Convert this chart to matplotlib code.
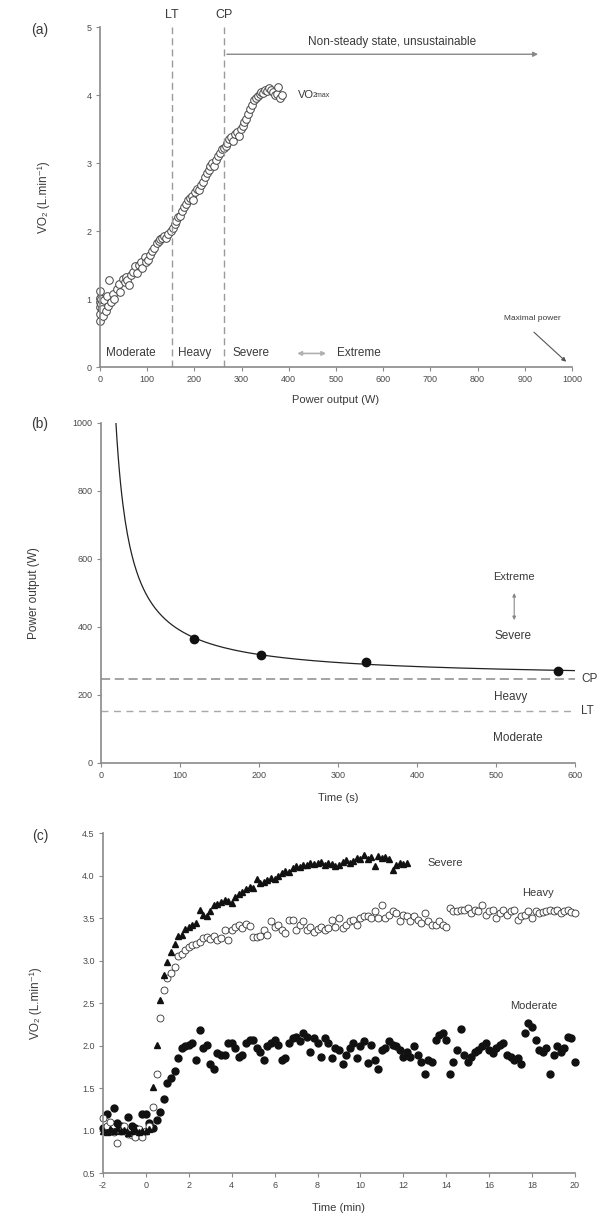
import numpy as np
import matplotlib
matplotlib.use("Agg")
import matplotlib.pyplot as plt

plt.rcParams['font.family'] = ['Liberation Sans', 'DejaVu Sans']
plt.rcParams['axes.unicode_minus'] = False

TXT = '#3a3a3a'
AX = '#8a8a8a'

# ---- (a) ramp test: VO2 vs power output ----
ramp_power = [0, 0, 0, 0, 0, 0, 2, 3, 4, 6, 8, 12, 15, 18, 20, 24, 28, 30, 35, 40,
              42, 48, 52, 55, 58, 62, 66, 70, 75, 78, 82, 86, 90, 95, 98, 102, 106, 110, 115, 120,
              125, 128, 132, 136, 140, 145, 150, 154, 158, 162, 166, 170, 174, 178, 182, 186, 190, 194, 198, 202,
              206, 210, 214, 218, 222, 226, 230, 234, 238, 242, 246, 250, 254, 258, 262, 266, 270, 274, 278, 282,
              286, 290, 294, 298, 302, 306, 310, 314, 318, 322, 326, 330, 334, 338, 342, 346, 350, 354, 358, 362,
              366, 370, 374, 378, 382, 386]
ramp_vo2 = [0.68, 0.78, 0.88, 0.95, 1.02, 1.12, 0.92, 1.00, 0.86, 0.75, 0.98, 0.82, 1.05, 0.90, 1.28, 0.95, 1.08, 1.00, 1.15, 1.22,
            1.10, 1.30, 1.25, 1.32, 1.28, 1.20, 1.35, 1.40, 1.48, 1.38, 1.50, 1.55, 1.45, 1.62, 1.55, 1.58, 1.65, 1.70, 1.75, 1.82,
            1.86, 1.88, 1.90, 1.92, 1.90, 1.95, 2.00, 2.05, 2.10, 2.15, 2.20, 2.22, 2.30, 2.35, 2.40, 2.45, 2.48, 2.52, 2.45, 2.58,
            2.62, 2.60, 2.68, 2.72, 2.80, 2.85, 2.90, 2.95, 3.00, 2.95, 3.05, 3.10, 3.15, 3.20, 3.22, 3.25, 3.30, 3.35, 3.38, 3.32,
            3.42, 3.45, 3.40, 3.50, 3.55, 3.60, 3.65, 3.72, 3.80, 3.85, 3.92, 3.95, 3.98, 4.02, 4.05, 4.03, 4.08, 4.06, 4.10, 4.08,
            4.05, 4.00, 4.02, 4.12, 3.95, 4.00]
LT_A = 152
CP_A = 263
MAX_POWER = 1000

# ---- (b) power-duration relationship ----
trial_time = [118, 202, 335, 579]
trial_power = [364, 319, 296, 271]
CP_B = 248
LT_B = 152
W_PRIME = 14200  # J, curvature constant of the hyperbola

# ---- (c) constant-power VO2 responses, 10-s samples from -2 min ----
moderate = [1.03, 1.20, 0.99, 1.26, 1.09, 1.05, 1.01, 1.16, 1.05, 1.03, 0.99, 1.20,
            1.20, 1.09, 1.03, 1.12, 1.22, 1.37, 1.56, 1.62, 1.70, 1.85, 1.97, 1.99,
            2.01, 2.03, 1.83, 2.18, 1.97, 2.01, 1.78, 1.72, 1.91, 1.89, 1.89, 2.03,
            2.03, 1.97, 1.87, 1.89, 2.03, 2.07, 2.07, 1.97, 1.93, 1.83, 1.99, 2.03,
            2.07, 2.01, 1.83, 1.85, 2.03, 2.09, 2.10, 2.05, 2.15, 2.10, 1.93, 2.09,
            2.03, 1.87, 2.09, 2.03, 1.85, 1.97, 1.95, 1.78, 1.89, 1.97, 2.03, 1.85,
            1.99, 2.05, 1.79, 2.01, 1.83, 1.72, 1.95, 1.97, 2.05, 2.01, 1.99, 1.95,
            1.87, 1.93, 1.87, 1.99, 1.89, 1.81, 1.67, 1.83, 1.81, 2.07, 2.13, 2.15,
            2.07, 1.66, 1.81, 1.95, 2.20, 1.89, 1.81, 1.87, 1.93, 1.95, 1.99, 2.03,
            1.95, 1.91, 1.97, 2.01, 2.03, 1.89, 1.87, 1.83, 1.85, 1.78, 2.15, 2.26,
            2.22, 2.07, 1.95, 1.93, 1.97, 1.67, 1.89, 1.99, 1.93, 1.97, 2.10, 2.09,
            1.81]
heavy = [1.15, 1.05, 1.10, 0.98, 0.85, 1.00, 1.05, 0.96, 0.95, 0.93, 1.02, 0.93,
         1.00, 1.05, 1.28, 1.66, 2.33, 2.65, 2.79, 2.85, 2.93, 3.05, 3.08, 3.12,
         3.16, 3.18, 3.20, 3.22, 3.26, 3.28, 3.25, 3.29, 3.24, 3.27, 3.36, 3.24,
         3.36, 3.40, 3.42, 3.38, 3.43, 3.41, 3.28, 3.28, 3.29, 3.36, 3.30, 3.46,
         3.40, 3.42, 3.36, 3.32, 3.48, 3.48, 3.36, 3.42, 3.46, 3.36, 3.40, 3.34,
         3.37, 3.40, 3.36, 3.38, 3.48, 3.40, 3.50, 3.38, 3.42, 3.46, 3.48, 3.42,
         3.50, 3.52, 3.53, 3.50, 3.58, 3.50, 3.65, 3.50, 3.54, 3.58, 3.56, 3.46,
         3.54, 3.52, 3.46, 3.52, 3.48, 3.44, 3.56, 3.46, 3.42, 3.42, 3.46, 3.42,
         3.40, 3.62, 3.58, 3.58, 3.59, 3.60, 3.62, 3.56, 3.60, 3.58, 3.65, 3.54,
         3.58, 3.60, 3.50, 3.56, 3.60, 3.54, 3.58, 3.60, 3.48, 3.52, 3.54, 3.58,
         3.50, 3.58, 3.56, 3.57, 3.58, 3.59, 3.58, 3.60, 3.56, 3.58, 3.60, 3.57,
         3.56]
severe = [1.00, 0.98, 1.02, 1.00, 1.03, 0.99, 1.01, 0.97, 1.00, 1.02, 0.98, 1.00,
          0.99, 1.02, 1.51, 2.01, 2.54, 2.83, 2.98, 3.10, 3.19, 3.29, 3.30, 3.37,
          3.40, 3.42, 3.44, 3.60, 3.54, 3.52, 3.58, 3.65, 3.66, 3.69, 3.71, 3.70,
          3.68, 3.75, 3.78, 3.81, 3.84, 3.87, 3.85, 3.96, 3.91, 3.92, 3.95, 3.97,
          3.96, 4.00, 4.03, 4.05, 4.04, 4.09, 4.11, 4.10, 4.13, 4.12, 4.15, 4.14,
          4.15, 4.16, 4.13, 4.15, 4.14, 4.11, 4.13, 4.16, 4.18, 4.15, 4.17, 4.21,
          4.19, 4.24, 4.20, 4.22, 4.11, 4.23, 4.21, 4.22, 4.20, 4.07, 4.13, 4.15,
          4.14, 4.15]
SAMPLE_MIN = 10 / 60.0


def style_axes(ax):
    for s in ['top', 'right']:
        ax.spines[s].set_visible(False)
    for s in ['left', 'bottom']:
        ax.spines[s].set_color(AX)
        ax.spines[s].set_linewidth(1.2)
    ax.tick_params(direction='out', length=3, width=0.8, colors=AX,
                   labelcolor='#4a4a4a', labelsize=6.5, pad=3)


# V with combining dot above, unicode sub/superscripts
vo2_label = 'V\u0307O\u2082 (L.min\u207b\u00b9)'

fig = plt.figure(figsize=(6.02, 12.3), dpi=100)

# ---------------- (a) ----------------
ax = fig.add_axes([0.1661, 0.7016, 0.7841, 0.2764])
style_axes(ax)
ax.set_xlim(0, 1000)
ax.set_ylim(0, 5)
ax.plot(ramp_power, ramp_vo2, 'o', ms=5.5, mfc='white', mec='#444444', mew=0.7, clip_on=False)
for x, lab in [(LT_A, 'LT'), (CP_A, 'CP')]:
    ax.plot([x, x], [0, 5], ls=(0, (5, 3)), color='#9a9a9a', lw=1.0)
    ax.text(x, 5.18, lab, ha='center', va='center', fontsize=9, color=TXT)
ax.annotate('', xy=(934, 4.6), xytext=(CP_A, 4.6),
            arrowprops=dict(arrowstyle='-|>', color='#888888', lw=1.0, mutation_scale=7))
ax.text(619, 4.78, 'Non-steady state, unsustainable', ha='center', va='center',
        fontsize=8.5, color=TXT)
vm = ax.text(420, 4.0, 'V\u0307O', ha='left', va='center', fontsize=8, color=TXT)
ax.annotate('2max', xy=(1, 0), xycoords=vm, xytext=(-0.9, 0.5),
            textcoords='offset points', ha='left', va='bottom', fontsize=5, color=TXT)
ax.text(13, 0.2, 'Moderate', ha='left', va='center', fontsize=8.5, color=TXT)
ax.text(165, 0.2, 'Heavy', ha='left', va='center', fontsize=8.5, color=TXT)
ax.text(280, 0.2, 'Severe', ha='left', va='center', fontsize=8.5, color=TXT)
ax.annotate('', xy=(485, 0.2), xytext=(412, 0.2),
            arrowprops=dict(arrowstyle='<|-|>', color='#b0b0b0', lw=1.2, mutation_scale=6))
ax.text(502, 0.2, 'Extreme', ha='left', va='center', fontsize=8.5, color=TXT)
ax.text(915, 0.72, 'Maximal power', ha='center', va='center', fontsize=6, color=TXT)
ax.annotate('', xy=(MAX_POWER - 8, 0.05), xytext=(915, 0.54),
            arrowprops=dict(arrowstyle='-|>', color='#555555', lw=0.8, mutation_scale=6))
ax.set_xticks(range(0, 1001, 100))
ax.set_yticks(range(0, 6))
ax.set_xlabel('Power output (W)', fontsize=8, color=TXT, labelpad=8)
ax.set_ylabel(vo2_label, fontsize=8.5, color=TXT)
ax.yaxis.set_label_coords(-0.105, 0.5)
fig.text(40 / 602, 1 - 30 / 1230, '(a)', ha='center', va='center', fontsize=10, color=TXT)

# ---------------- (b) ----------------
ax = fig.add_axes([0.1678, 0.3797, 0.7874, 0.2764])
style_axes(ax)
t_fit = np.linspace(W_PRIME / (1000 - CP_B), 600, 400)
ax.plot(t_fit, CP_B + W_PRIME / t_fit, color='#222222', lw=0.9)
ax.plot(trial_time, trial_power, 'o', ms=6, color='#111111')
ax.plot([0, 600], [CP_B, CP_B], ls=(0, (6, 3)), color='#8a8a8a', lw=1.1, clip_on=False)
ax.plot([0, 600], [LT_B, LT_B], ls=(0, (5, 4)), color='#a8a8a8', lw=1.0, clip_on=False)
ax.text(608, CP_B, 'CP', ha='left', va='center', fontsize=8.5, color=TXT, clip_on=False)
ax.text(608, LT_B, 'LT', ha='left', va='center', fontsize=8.5, color=TXT, clip_on=False)
ax.text(523, 547, 'Extreme', ha='center', va='center', fontsize=8, color=TXT)
ax.annotate('', xy=(523, 412), xytext=(523, 508),
            arrowprops=dict(arrowstyle='<|-|>', color='#888888', lw=0.8, mutation_scale=5))
ax.text(521, 372, 'Severe', ha='center', va='center', fontsize=8.5, color=TXT)
ax.text(519, 194, 'Heavy', ha='center', va='center', fontsize=8.5, color=TXT)
ax.text(527, 73, 'Moderate', ha='center', va='center', fontsize=8.5, color=TXT)
ax.set_xlim(0, 600)
ax.set_ylim(0, 1000)
ax.set_xticks(range(0, 601, 100))
ax.set_yticks(range(0, 1001, 200))
ax.set_xlabel('Time (s)', fontsize=8, color=TXT, labelpad=9)
ax.set_ylabel('Power output (W)', fontsize=8.5, color=TXT)
ax.yaxis.set_label_coords(-0.128, 0.5)
fig.text(40 / 602, 1 - 424 / 1230, '(b)', ha='center', va='center', fontsize=10, color=TXT)

# ---------------- (c) ----------------
ax = fig.add_axes([0.1711, 0.0463, 0.784, 0.2764])
style_axes(ax)
t_mod = -2 + np.arange(len(moderate)) * SAMPLE_MIN
t_hvy = -2 + np.arange(len(heavy)) * SAMPLE_MIN
t_sev = -2 + np.arange(len(severe)) * SAMPLE_MIN
ax.plot(t_mod, moderate, 'o', ms=5, color='#111111', clip_on=False)
ax.plot(t_hvy, heavy, 'o', ms=5, mfc='white', mec='#333333', mew=0.6, clip_on=False)
ax.plot(t_sev, severe, '^', ms=4.5, color='#111111', clip_on=False)
ax.text(13.95, 4.15, 'Severe', ha='center', va='center', fontsize=8, color=TXT)
ax.text(18.3, 3.79, 'Heavy', ha='center', va='center', fontsize=8, color=TXT)
ax.text(18.1, 2.46, 'Moderate', ha='center', va='center', fontsize=8, color=TXT)
ax.set_xlim(-2, 20)
ax.set_ylim(0.5, 4.5)
ax.set_xticks(range(-2, 21, 2))
ax.set_yticks(np.arange(0.5, 4.51, 0.5))
ax.set_yticklabels(['%.1f' % v for v in np.arange(0.5, 4.51, 0.5)])
ax.set_xlabel('Time (min)', fontsize=8, color=TXT, labelpad=9)
ax.set_ylabel(vo2_label, fontsize=8.5, color=TXT)
ax.yaxis.set_label_coords(-0.13, 0.5)
fig.text(40 / 602, 1 - 836 / 1230, '(c)', ha='center', va='center', fontsize=10, color=TXT)

fig.savefig('out.png', dpi=100, facecolor='white')
